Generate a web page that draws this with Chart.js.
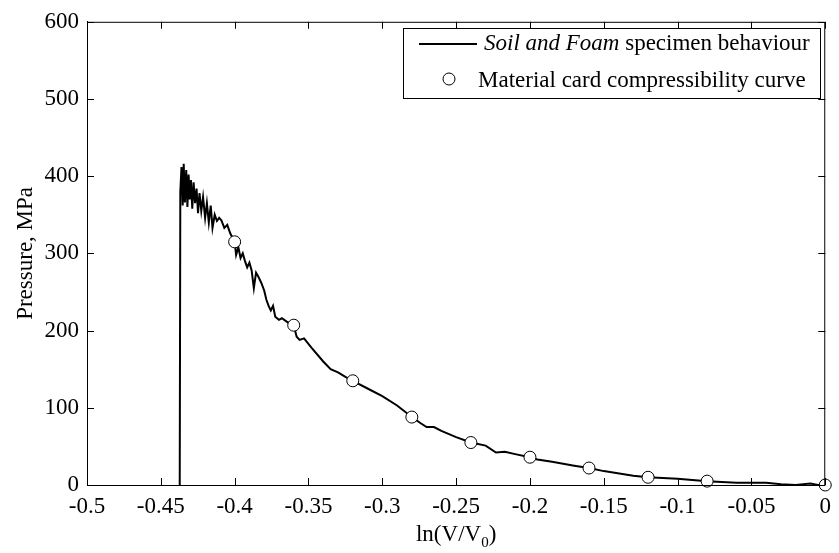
<!DOCTYPE html>
<html>
<head>
<meta charset="utf-8">
<script src="https://cdn.jsdelivr.net/npm/chart.js@4.4.1/dist/chart.umd.min.js"></script>
<style>
  html, body { margin: 0; padding: 0; background: #fff; }
  canvas { display: block; }
</style>
</head>
<body>
<canvas id="pressureChart" width="839" height="553"></canvas>
<script>
// measured specimen response: ln(V/V0) against pressure (MPa)
const specimenStrain = [
  -0.4372, -0.4368, -0.4360, -0.4352, -0.4345, -0.4337, -0.4328, -0.4320, -0.4312, -0.4304,
  -0.4296, -0.4287, -0.4278, -0.4268, -0.4258, -0.4248, -0.4238, -0.4226, -0.4214, -0.4200,
  -0.4188, -0.4175, -0.4162, -0.4150, -0.4135, -0.4120, -0.4105, -0.4090, -0.4070, -0.4050,
  -0.4030, -0.4000, -0.3990, -0.3975, -0.3960, -0.3945, -0.3930, -0.3915, -0.3900,
  -0.3885, -0.3870, -0.3855, -0.3840, -0.3820, -0.3800, -0.3785, -0.3770, -0.3755, -0.3740,
  -0.3725, -0.3700, -0.3680, -0.3650, -0.3620, -0.3600, -0.3580, -0.3560, -0.3530, -0.3480,
  -0.3400, -0.3350, -0.3300, -0.3250, -0.3200, -0.3100, -0.3000, -0.2900, -0.2800, -0.2740,
  -0.2700, -0.2650, -0.2600, -0.2500, -0.2400, -0.2300, -0.2230, -0.2170, -0.2100, -0.2000,
  -0.1950, -0.1850, -0.1700, -0.1600, -0.1500, -0.1300, -0.1200, -0.1000, -0.0800, -0.0600,
  -0.0400, -0.0300, -0.0200, -0.0100, -0.0050, 0.0000
];
const specimenPressure = [
  0, 380, 412, 362, 416, 366, 408, 360, 402, 370,
  395, 358, 392, 365, 384, 352, 378, 355, 373, 346,
  365, 340, 362, 333, 350, 342, 346, 343, 333, 337,
  326, 315, 298, 308, 294, 300, 290, 282, 288,
  278, 255, 275, 270, 262, 252, 240, 232, 226, 232,
  218, 214, 216, 212, 208, 207, 192, 188, 190, 178,
  160, 150, 146, 140, 135, 125, 115, 103, 88, 80,
  75, 75, 70, 62, 55, 51, 42, 43, 40, 36,
  33, 30, 25, 22, 18, 12, 10, 8, 5, 3,
  3, 1, 0, 2, 0, 0
];

// compressibility curve points from the material card
const cardStrain = [-0.4, -0.36, -0.32, -0.28, -0.24, -0.2, -0.16, -0.12, -0.08, 0];
const cardPressure = [315, 207, 135, 88, 55, 36, 22, 10, 5, 0];

const xTicks = [-0.5, -0.45, -0.4, -0.35, -0.3, -0.25, -0.2, -0.15, -0.1, -0.05, 0];
const yTicks = [0, 100, 200, 300, 400, 500, 600];

const FONT = 'Liberation Serif, Times New Roman, serif';
const FS = 23;

function pairs(xs, ys) {
  return xs.map((x, i) => ({ x: x, y: ys[i] }));
}

// box frame, inward tick marks, axis titles and the legend
const decorations = {
  id: 'decorations',
  afterDraw(chart) {
    const { ctx, chartArea: a, scales } = chart;
    const tl = 7;
    ctx.save();
    ctx.strokeStyle = '#000';
    ctx.lineWidth = 1;
    ctx.strokeRect(a.left + 0.5, a.top + 0.5, a.right - a.left - 1, a.bottom - a.top);

    ctx.beginPath();
    xTicks.forEach((v) => {
      const px = Math.round(scales.x.getPixelForValue(v)) + 0.5;
      ctx.moveTo(px, a.bottom);
      ctx.lineTo(px, a.bottom - tl);
      ctx.moveTo(px, a.top);
      ctx.lineTo(px, a.top + tl);
    });
    yTicks.forEach((v) => {
      const py = Math.round(scales.y.getPixelForValue(v)) + 0.5;
      ctx.moveTo(a.left, py);
      ctx.lineTo(a.left + tl, py);
      ctx.moveTo(a.right, py);
      ctx.lineTo(a.right - tl, py);
    });
    ctx.stroke();

    // axis titles
    ctx.fillStyle = '#000';
    ctx.font = FS + 'px ' + FONT;
    ctx.textBaseline = 'middle';
    ctx.textAlign = 'center';
    ctx.save();
    ctx.translate(26, (a.top + a.bottom) / 2);
    ctx.rotate(-Math.PI / 2);
    ctx.fillText('Pressure, MPa', 0, 0);
    ctx.restore();

    const main = 'ln(V/V';
    ctx.textBaseline = 'alphabetic';
    ctx.font = FS + 'px ' + FONT;
    const w1 = ctx.measureText(main).width;
    const w3 = ctx.measureText(')').width;
    ctx.font = '15px ' + FONT;
    const w2 = ctx.measureText('0').width;
    const tx = (a.left + a.right) / 2 - (w1 + w2 + w3) / 2;
    const base = 541;
    ctx.textAlign = 'left';
    ctx.font = FS + 'px ' + FONT;
    ctx.fillText(main, tx, base);
    ctx.font = '15px ' + FONT;
    ctx.fillText('0', tx + w1, base + 6);
    ctx.font = FS + 'px ' + FONT;
    ctx.fillText(')', tx + w1 + w2, base);

    // legend
    const lx = 403, ly = 28, lw = 417, lh = 70;
    ctx.fillStyle = '#fff';
    ctx.fillRect(lx, ly, lw, lh);
    ctx.strokeRect(lx + 0.5, ly + 0.5, lw, lh);

    ctx.lineWidth = 2;
    ctx.beginPath();
    ctx.moveTo(419, 44);
    ctx.lineTo(477, 44);
    ctx.stroke();

    ctx.lineWidth = 1;
    ctx.beginPath();
    ctx.arc(449, 79, 6, 0, Math.PI * 2);
    ctx.fillStyle = '#fff';
    ctx.fill();
    ctx.stroke();

    ctx.fillStyle = '#000';
    ctx.textBaseline = 'middle';
    ctx.font = 'italic ' + FS + 'px ' + FONT;
    const it = 'Soil and Foam';
    ctx.fillText(it, 484, 44);
    const wi = ctx.measureText(it + ' ').width;
    ctx.font = FS + 'px ' + FONT;
    ctx.fillText('specimen behaviour', 484 + wi, 44);
    ctx.fillText('Material card compressibility curve', 478, 81);
    ctx.restore();
  }
};

new Chart(document.getElementById('pressureChart').getContext('2d'), {
  type: 'scatter',
  data: {
    datasets: [
      {
        label: 'Material card compressibility curve',
        data: pairs(cardStrain, cardPressure),
        showLine: false,
        pointRadius: 6,
        pointHoverRadius: 6,
        pointBackgroundColor: '#fff',
        pointBorderColor: '#000',
        pointBorderWidth: 1,
        clip: false,
        order: 0,
      },
      {
        label: 'Soil and Foam specimen behaviour',
        data: pairs(specimenStrain, specimenPressure),
        showLine: true,
        borderColor: '#000',
        borderWidth: 2,
        pointRadius: 0,
        tension: 0,
        order: 1,
      },
    ],
  },
  options: {
    responsive: false,
    animation: false,
    devicePixelRatio: 1,
    layout: {
      padding: { top: 19, right: 7, left: 0, bottom: 0 },
    },
    plugins: {
      legend: { display: false },
      tooltip: { enabled: false },
    },
    scales: {
      x: {
        type: 'linear',
        min: -0.5,
        max: 0,
        afterBuildTicks: (scale) => {
          scale.ticks = xTicks.map((v) => ({ value: v }));
        },
        afterFit: (scale) => {
          scale.height = 68;
        },
        grid: { display: false, drawTicks: false },
        border: { display: true, color: '#000', width: 1 },
        ticks: {
          padding: 8,
          color: '#000',
          font: { family: FONT, size: FS },
          maxRotation: 0,
          autoSkip: false,
          callback: (v) => String(Number(Number(v).toFixed(2))),
        },
      },
      y: {
        type: 'linear',
        min: 0,
        max: 600,
        afterBuildTicks: (scale) => {
          scale.ticks = yTicks.map((v) => ({ value: v }));
        },
        afterFit: (scale) => {
          scale.width = 87;
        },
        grid: { display: false, drawTicks: false },
        border: { display: true, color: '#000', width: 1 },
        ticks: {
          padding: 8,
          color: '#000',
          font: { family: FONT, size: FS },
          callback: (v) => String(v),
        },
      },
    },
  },
  plugins: [decorations],
});
</script>
</body>
</html>
